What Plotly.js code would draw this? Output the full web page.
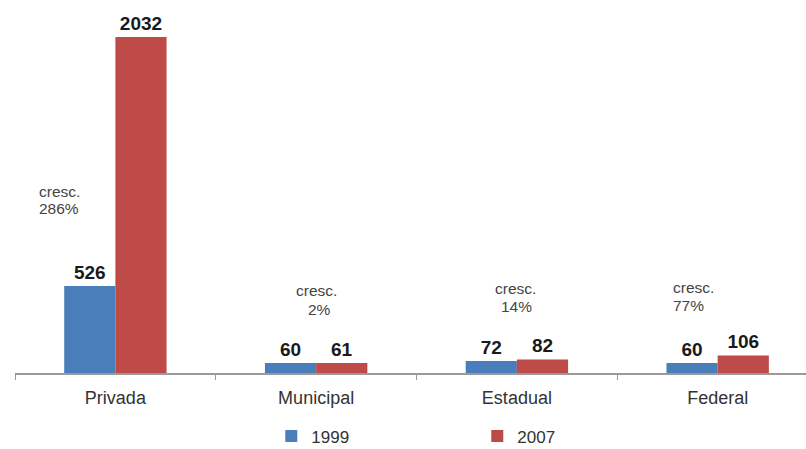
<!DOCTYPE html>
<html>
<head>
<meta charset="utf-8">
<script src="https://cdn.plot.ly/plotly-3.0.1.min.js"></script>
<style>html,body{margin:0;padding:0;background:#fff;}#chart{width:806px;height:449px;}</style>
</head>
<body>
<div id="chart"></div>
<script>
const categories = ["Privada", "Municipal", "Estadual", "Federal"];
const values1999 = [526, 60, 72, 60];
const values2007 = [2032, 61, 82, 106];
const growthWord = "cresc.";
const growthPct = ["286%", "2%", "14%", "77%"];
const seriesNames = ["1999", "2007"];

const FONT = "Liberation Sans, Arial, sans-serif";
const valueFont = {family: FONT, size: 19, color: "#1a1a1a"};

const traces = [
  {type: "bar", name: seriesNames[0], x: categories, y: values1999,
   marker: {color: "#4a7ebb"}, text: values1999.map(v => "<b>" + v + "</b>"),
   textposition: "outside", textfont: valueFont, cliponaxis: false, hoverinfo: "none"},
  {type: "bar", name: seriesNames[1], x: categories, y: values2007,
   marker: {color: "#be4b48"}, text: values2007.map(v => "<b>" + v + "</b>"),
   textposition: "outside", textfont: valueFont, cliponaxis: false, hoverinfo: "none"}
];

// label placement (layout only)
const annPos = [
  {x1: -0.385, y1: 1100, x2: -0.385, y2: 992, xanchor: "left"},
  {x1: 1.004, y1: 496, x2: 1.019, y2: 387, xanchor: "center"},
  {x1: 1.995, y1: 514, x2: 2.0, y2: 405, xanchor: "center"},
  {x1: 2.773, y1: 520, x2: 2.773, y2: 411, xanchor: "left"}
];

const annFont = {family: FONT, size: 15.5, color: "#444"};
const annotations = [];
growthPct.forEach((p, i) => {
  const a = annPos[i];
  annotations.push({text: growthWord, x: a.x1, y: a.y1, xref: "x", yref: "y", xanchor: a.xanchor, yanchor: "middle", showarrow: false, borderpad: 0, font: annFont});
  annotations.push({text: p, x: a.x2, y: a.y2, xref: "x", yref: "y", xanchor: a.xanchor, yanchor: "middle", showarrow: false, borderpad: 0, font: annFont});
});

const layout = {
  width: 806, height: 449,
  margin: {l: 15, r: 0, t: 10, b: 76},
  paper_bgcolor: "#fff", plot_bgcolor: "#fff",
  barmode: "group", bargap: 0.49, bargroupgap: 0,
  font: {family: FONT, color: "#333"},
  xaxis: {
    range: [-0.5, 3.44], showline: true, linecolor: "#9a9a9a", linewidth: 1.5,
    ticks: "outside", tickson: "boundaries", ticklen: 5, tickcolor: "#9a9a9a",
    ticklabelstandoff: 8,
    tickfont: {family: FONT, size: 18, color: "#333"}, showgrid: false, zeroline: false
  },
  yaxis: {range: [0, 2195], visible: false, showgrid: false, zeroline: false},
  showlegend: true,
  legend: {orientation: "h", xref: "paper", x: 0.324, xanchor: "left",
           yref: "container", y: 0.028, yanchor: "middle", borderwidth: 0,
           entrywidth: 161, entrywidthmode: "pixels",
           font: {family: FONT, size: 17, color: "#333"}},
  annotations: annotations
};

Plotly.newPlot("chart", traces, layout, {displayModeBar: false, staticPlot: true});
</script>
</body>
</html>
